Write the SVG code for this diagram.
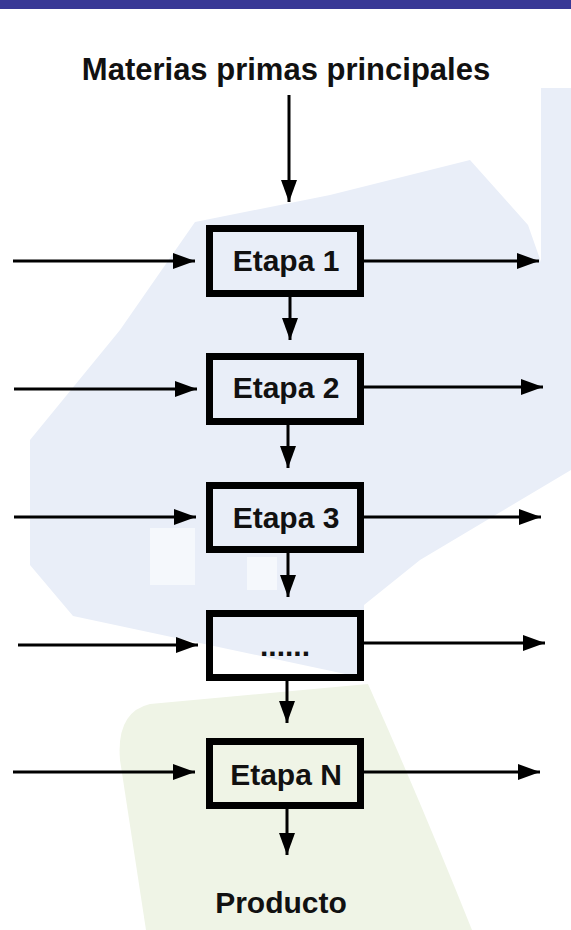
<svg xmlns="http://www.w3.org/2000/svg" width="571" height="930" viewBox="0 0 571 930">
  <defs>
    <marker id="head" markerUnits="userSpaceOnUse" markerWidth="24" markerHeight="16" refX="22" refY="8" orient="auto">
      <path d="M0,0 L22,8 L0,16 Z" fill="#000"/>
    </marker>
    <style>
      .box { fill: none; stroke: #000; stroke-width: 7; }
      .lbl { font-family: "Liberation Sans", Arial, sans-serif; font-weight: bold; font-size: 30px; fill: #111; text-anchor: middle; }
      .flow { stroke: #000; stroke-width: 3; fill: none; marker-end: url(#head); }
    </style>
  </defs>

  <!-- page background and header band -->
  <rect x="0" y="0" width="571" height="930" fill="#fff"/>
  <rect x="0" y="0" width="571" height="9" fill="#383896"/>

  <!-- faint watermark shapes -->
  <g id="watermark">
    <polygon points="541,88 571,88 571,470 420,560 364,605 364,678 73,616 30,565 30,440 120,330 195,222 330,195 470,160 528,225 541,262" fill="#e9eef8"/>
    <polygon points="150,528 195,528 195,585 150,585" fill="#f5f8fc"/>
    <polygon points="247,557 277,557 277,590 247,590" fill="#f5f8fc"/>
    <path d="M146,930 L120,760 Q116,712 150,704 L368,684 Q420,800 472,930 Z" fill="#eff4e6"/>
  </g>

  <!-- title -->
  <g id="title">
    <text class="lbl" x="286" y="80" style="font-size:31px">Materias primas principales</text>
  </g>

  <!-- process stages -->
  <g id="etapa1">
    <rect class="box" x="209.5" y="228.5" width="151" height="65"/>
    <text class="lbl" x="286" y="271">Etapa 1</text>
  </g>
  <g id="etapa2">
    <rect class="box" x="209.5" y="356.5" width="151" height="65"/>
    <text class="lbl" x="286" y="398">Etapa 2</text>
  </g>
  <g id="etapa3">
    <rect class="box" x="209.5" y="485.5" width="151" height="64"/>
    <text class="lbl" x="286" y="528">Etapa 3</text>
  </g>
  <g id="etapa-intermedia">
    <rect class="box" x="209.5" y="613.5" width="151" height="64"/>
    <text class="lbl" x="285" y="656">......</text>
  </g>
  <g id="etapaN">
    <rect class="box" x="209.5" y="741.5" width="151" height="64"/>
    <text class="lbl" x="286" y="785">Etapa N</text>
  </g>

  <!-- final product -->
  <g id="producto">
    <text class="lbl" x="281" y="913">Producto</text>
  </g>

  <!-- connectors -->
  <g id="connectors">
    <!-- main line -->
    <line class="flow" x1="289" y1="95" x2="289" y2="202"/>
    <line class="flow" x1="290" y1="297" x2="290" y2="340"/>
    <line class="flow" x1="288" y1="425" x2="288" y2="468"/>
    <line class="flow" x1="288" y1="553" x2="288" y2="597"/>
    <line class="flow" x1="287" y1="681" x2="287" y2="723"/>
    <line class="flow" x1="287" y1="809" x2="287" y2="855"/>
    <!-- side inputs -->
    <line class="flow" x1="13" y1="261" x2="195" y2="261"/>
    <line class="flow" x1="14" y1="389" x2="197" y2="389"/>
    <line class="flow" x1="14" y1="517" x2="196" y2="517"/>
    <line class="flow" x1="18" y1="645" x2="198" y2="645"/>
    <line class="flow" x1="13" y1="772" x2="195" y2="772"/>
    <!-- side outputs -->
    <line class="flow" x1="364" y1="261" x2="539" y2="261"/>
    <line class="flow" x1="364" y1="387" x2="543" y2="387"/>
    <line class="flow" x1="364" y1="517" x2="541" y2="517"/>
    <line class="flow" x1="364" y1="643" x2="545" y2="643"/>
    <line class="flow" x1="364" y1="772" x2="540" y2="772"/>
  </g>
</svg>
